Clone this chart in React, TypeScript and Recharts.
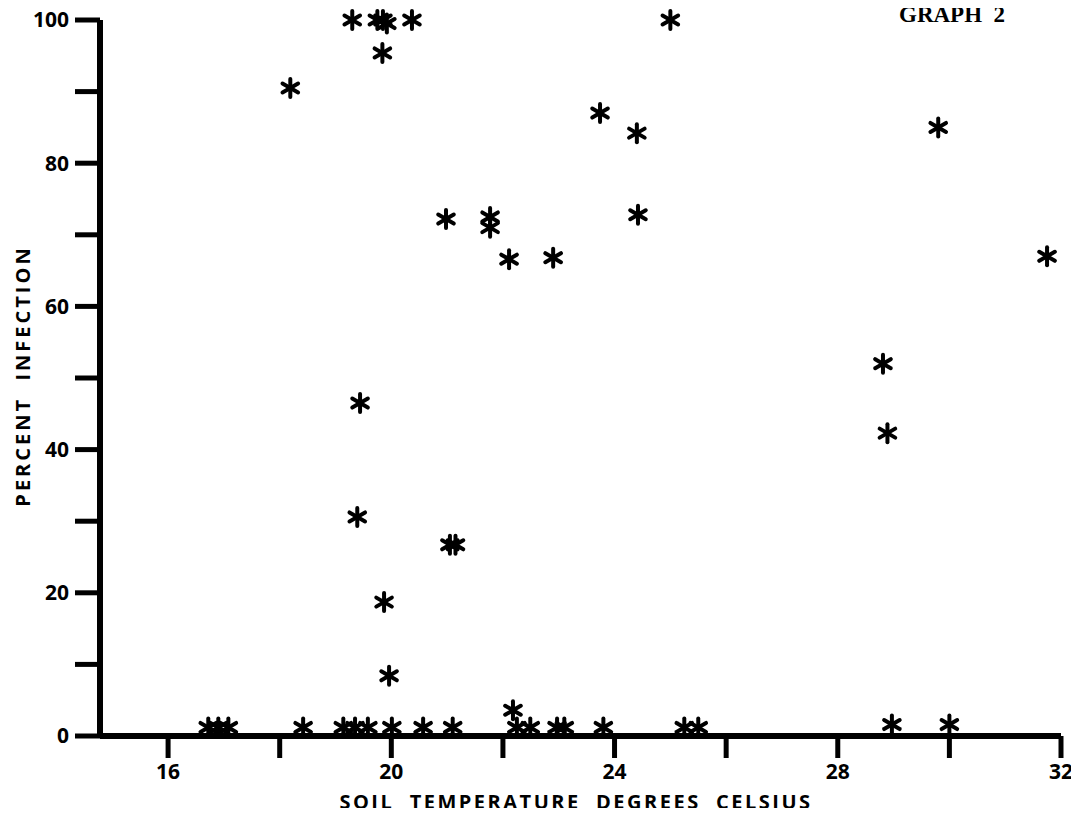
import React from "react";
import { ScatterChart, Scatter, XAxis, YAxis } from "recharts";

const temperatures: number[] = [
  18.19, 19.3, 19.75, 19.85, 19.92, 20.37, 19.84, 25.0, 23.74, 24.4, 24.42,
  29.8, 31.75, 28.81, 28.89, 20.98, 21.77, 21.77, 22.11, 22.9, 19.44, 19.39,
  21.05, 21.15, 19.87, 19.96, 22.18,
  16.72, 16.9, 17.08, 18.42, 19.14, 19.35, 19.58, 20.01, 20.57, 21.1, 22.25,
  22.49, 22.97, 23.1, 23.8, 25.25, 25.5, 28.97, 30.0,
];
const percentInfection: number[] = [
  90.5, 100, 100, 100, 99.5, 100, 95.4, 100, 87, 84.2, 72.8,
  85, 67, 52, 42.3, 72.2, 72.5, 71, 66.6, 66.8, 46.5, 30.6,
  26.7, 26.7, 18.7, 8.4, 3.6,
  1.2, 1.2, 1.2, 1.2, 1.2, 1.2, 1.2, 1.2, 1.2, 1.2, 1.2,
  1.2, 1.2, 1.2, 1.2, 1.2, 1.2, 1.6, 1.6,
];
const xTicks: number[] = [16, 18, 20, 22, 24, 26, 28, 30, 32];
const xLabelled: number[] = [16, 20, 24, 28, 32];
const yTicks: number[] = [0, 10, 20, 30, 40, 50, 60, 70, 80, 90, 100];
const yLabelled: number[] = [0, 20, 40, 60, 80, 100];

const data = temperatures.map((t, i) => ({ t, p: percentInfection[i] }));

const FONT = "'Open Sans', sans-serif";

function Asterisk(props: any) {
  const { cx, cy } = props;
  if (cx == null || cy == null) return null;
  const r = 9;
  const dx = r * Math.cos(Math.PI / 6);
  const dy = r * Math.sin(Math.PI / 6);
  return (
    <g stroke="#000" strokeWidth={4} strokeLinecap="round">
      <line x1={cx} y1={cy - r} x2={cx} y2={cy + r} />
      <line x1={cx - dx} y1={cy - dy} x2={cx + dx} y2={cy + dy} />
      <line x1={cx - dx} y1={cy + dy} x2={cx + dx} y2={cy - dy} />
    </g>
  );
}

export default function App() {
  return (
    <div style={{ position: "relative", width: 1071, height: 808, marginTop: -8 }}>
      <ScatterChart
        width={1071}
        height={808}
        margin={{ top: 20, right: 18, left: 32, bottom: 12 }}
        style={{ overflow: "visible" }}
      >
        <XAxis
          type="number"
          dataKey="t"
          domain={[14.78, 32]}
          ticks={xTicks}
          allowDataOverflow
          interval={0}
          tickSize={22}
          tickMargin={6}
          height={60}
          axisLine={{ stroke: "#000", strokeWidth: 6 }}
          tickLine={{ stroke: "#000", strokeWidth: 5 }}
          tickFormatter={(v: number) => (xLabelled.includes(v) ? String(v) : "")}
          tick={{ fill: "#000", fontSize: 21, fontWeight: 700, fontFamily: FONT }}
        />
        <YAxis
          type="number"
          dataKey="p"
          domain={[0, 100]}
          ticks={yTicks}
          interval={0}
          width={60}
          tickSize={25}
          tickMargin={6}
          axisLine={{ stroke: "#000", strokeWidth: 6 }}
          tickLine={{ stroke: "#000", strokeWidth: 5 }}
          tickFormatter={(v: number) => (yLabelled.includes(v) ? String(v) : "")}
          tick={{ fill: "#000", fontSize: 21, fontWeight: 700, fontFamily: FONT }}
        />
        <Scatter data={data} shape={Asterisk} isAnimationActive={false} />
      </ScatterChart>
      <div
        style={{
          position: "absolute",
          left: 318,
          top: 792,
          width: 500,
          textAlign: "center",
          fontFamily: FONT,
          fontWeight: 700,
          fontSize: 20,
          letterSpacing: 2.5,
          whiteSpace: "pre",
          lineHeight: "20px",
        }}
      >
        {"SOIL  TEMPERATURE  DEGREES  CELSIUS"}
      </div>
      <div
        style={{
          position: "absolute",
          left: 15 - 150,
          top: 376 - 10,
          width: 300,
          textAlign: "center",
          transform: "rotate(-90deg)",
          fontFamily: FONT,
          fontWeight: 700,
          fontSize: 20,
          letterSpacing: 3,
          whiteSpace: "pre",
          lineHeight: "20px",
        }}
      >
        {"PERCENT  INFECTION"}
      </div>
      <div
        style={{
          position: "absolute",
          left: 891,
          top: 2,
          fontFamily: "'Liberation Serif', 'Times New Roman', serif",
          fontWeight: 700,
          fontSize: 23,
          lineHeight: "26px",
          whiteSpace: "pre",
        }}
      >
        {"GRAPH  2"}
      </div>
    </div>
  );
}
